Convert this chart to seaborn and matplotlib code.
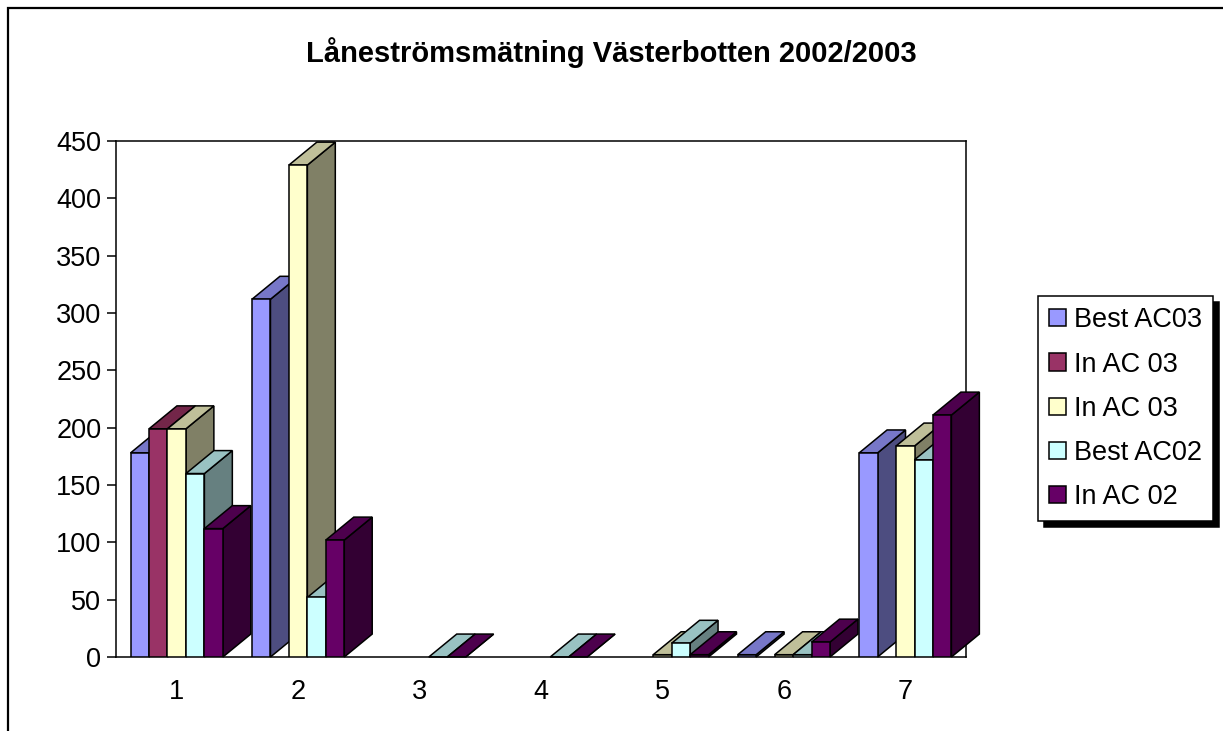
import numpy as np
import pandas as pd
import matplotlib
matplotlib.use("Agg")
import matplotlib.pyplot as plt
from matplotlib.patches import Polygon, Rectangle, Patch
import seaborn as sns

# Data (nan = no bar drawn)
nan = np.nan
kategorier = ["1", "2", "3", "4", "5", "6", "7"]
best_ac03 = [178, 312, nan, nan, nan, 2, 178]
in_ac03_a = [199, nan, nan, nan, nan, nan, nan]
in_ac03_b = [199, 429, nan, nan, 2, 2, 184]
best_ac02 = [160, 52, 0, 0, 12, 2, 172]
in_ac02 = [112, 102, 0, 0, 2, 13, 211]

serienamn = ["Best AC03", "In AC 03", "In AC 03", "Best AC02", "In AC 02"]
serier = [best_ac03, in_ac03_a, in_ac03_b, best_ac02, in_ac02]

# Excel 97 style colours: front, side, top
fram = ["#9999FF", "#993366", "#FFFFCC", "#CCFFFF", "#660066"]
sida = ["#4D4D80", "#4D1A33", "#808066", "#668080", "#330033"]
topp = ["#7777C8", "#732649", "#BFBF99", "#99C2C2", "#4D004D"]

rows = []
for i, vals in enumerate(serier):
    for k, v in zip(kategorier, vals):
        rows.append({"kategori": k, "serie": f"s{i}", "varde": v})
df = pd.DataFrame(rows)

sns.set_theme(style="white")
plt.rcParams["font.family"] = ["Liberation Sans", "DejaVu Sans"]
plt.rcParams["text.color"] = "black"

fig = plt.figure(figsize=(12.23, 7.31), dpi=100)
ax = fig.add_axes([116 / 1223, 1 - 657 / 731, (966 - 116) / 1223, (657 - 141) / 731])

sns.barplot(data=df, x="kategori", y="varde", hue="serie",
            hue_order=[f"s{i}" for i in range(5)], order=kategorier,
            palette=fram, width=0.76, gap=0, errorbar=None, legend=False,
            edgecolor="black", linewidth=1.1, saturation=1, ax=ax)

# fake 3D depth: side and top faces from each bar
dx, dy = 0.23, 20
for k, cont in enumerate(ax.containers):
    for p in cont.patches:
        h = p.get_height()
        if np.isnan(h):
            continue
        x0, w = p.get_x(), p.get_width()
        p.set_zorder(10 + 3 * k + 1)
        p.set_facecolor(fram[k])
        top = Polygon([(x0, h), (x0 + w, h), (x0 + w + dx, h + dy), (x0 + dx, h + dy)],
                      closed=True, facecolor=topp[k], edgecolor="black", lw=1.1,
                      zorder=10 + 3 * k, clip_on=False)
        side = Polygon([(x0 + w, 0), (x0 + w + dx, dy), (x0 + w + dx, h + dy), (x0 + w, h)],
                       closed=True, facecolor=sida[k], edgecolor="black", lw=1.1,
                       zorder=10 + 3 * k, clip_on=False)
        ax.add_patch(side)
        ax.add_patch(top)

ax.set_xlim(-0.5, 6.5)
ax.set_ylim(0, 450)
ax.set_yticks(np.arange(0, 451, 50))
ax.set_xlabel("")
ax.set_ylabel("")
for s in ax.spines.values():
    s.set_color("black")
    s.set_linewidth(1.1)
ax.tick_params(axis="y", left=True, length=6.5, width=1.1, color="black",
               pad=4, labelsize=19.5, labelcolor="black")
ax.tick_params(axis="x", bottom=False, length=0, pad=16, labelsize=19.5,
               labelcolor="black")

fig.text(611 / 1223, 1 - 53 / 731, "Låneströmsmätning Västerbotten 2002/2003",
         ha="center", va="center", fontsize=21, fontweight="bold", color="black")

# legend with square keys and a hard black shadow
handles = [Patch(facecolor=c, edgecolor="black", lw=1.1) for c in fram]
leg = fig.legend(handles, serienamn, loc="upper left",
                 bbox_to_anchor=(1038 / 1223, 1 - 296 / 731), borderaxespad=0,
                 fontsize=19.5, frameon=True, fancybox=False,
                 shadow={"color": "black", "alpha": 1, "ox": 4, "oy": -4},
                 handlelength=0.6, handleheight=0.6, handletextpad=0.3,
                 labelspacing=0.67, borderpad=0.42)
leg.get_frame().set_edgecolor("black")
leg.get_frame().set_linewidth(1.1)

# outer chart border
fig.add_artist(Rectangle((8 / 1223, -0.2), 2, 1.2 - 8 / 731, transform=fig.transFigure,
                         fill=False, edgecolor="black", lw=1.6))

fig.savefig("out.png", dpi=100, facecolor="white")
